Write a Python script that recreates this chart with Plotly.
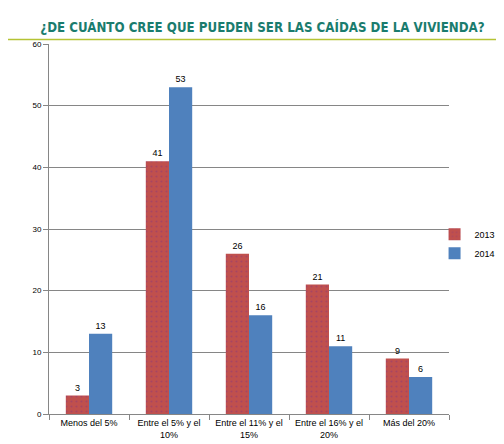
import plotly.graph_objects as go

categorias = ["Menos del 5%", "Entre el 5% y el<br>10%", "Entre el 11% y el<br>15%",
              "Entre el 16% y el<br>20%", "Más del 20%"]
valores_2013 = [3, 41, 26, 21, 9]
valores_2014 = [13, 53, 16, 11, 6]

fig = go.Figure()
fig.add_trace(go.Bar(x=categorias, y=valores_2013, name="2013",
                     marker=dict(color="#C0504D", line=dict(width=0),
                                 pattern=dict(shape=".", fgcolor="#8E3A78", bgcolor="#C0504D",
                                              size=5, solidity=0.15)),
                     text=valores_2013, textposition="outside", cliponaxis=False,
                     textfont=dict(size=9, color="black")))
fig.add_trace(go.Bar(x=categorias, y=valores_2014, name="2014",
                     marker=dict(color="#4F81BD", line=dict(width=0)),
                     text=valores_2014, textposition="outside", cliponaxis=False,
                     textfont=dict(size=9, color="black")))

fig.update_layout(
    width=504, height=444,
    margin=dict(l=41, r=4, t=36, b=38, autoexpand=False),
    paper_bgcolor="white", plot_bgcolor="white",
    font=dict(family="Liberation Sans, Arial", size=9, color="black"),
    barmode="group", bargap=0.42, bargroupgap=0,
    showlegend=True,
    legend=dict(x=0.84, y=0.46, xanchor="left", yanchor="middle",
                bgcolor="rgba(0,0,0,0)", font=dict(size=9), itemwidth=30,
                tracegroupgap=2),
    title=dict(text="<b>¿DE CUÁNTO CREE QUE PUEDEN SER LAS CAÍDAS DE LA VIVIENDA?</b>",
               x=0.505, xanchor="center", y=0.956, yanchor="middle",
               font=dict(size=13.2, color="#1A7C6E", family="DejaVu Sans Condensed, Liberation Sans")),
)
fig.update_xaxes(domain=[0, 400 / 459], showline=True, linecolor="#868686", linewidth=1,
                 ticks="outside", tickcolor="#868686", ticklen=5, tickson="boundaries",
                 showgrid=False, tickfont=dict(size=9), tickangle=0, automargin=False)
fig.update_yaxes(range=[0, 60], dtick=10, showline=True, linecolor="#868686", linewidth=1,
                 ticks="outside", tickcolor="#868686", ticklen=5, showgrid=True,
                 gridcolor="#868686", gridwidth=1, tickfont=dict(size=8), zeroline=False,
                 automargin=False)
fig.add_shape(type="line", xref="paper", yref="paper", x0=-0.2, x1=1.2, y0=1.012, y1=1.012,
              line=dict(color="#B5C334", width=1.5))

fig.write_html("out.html")
